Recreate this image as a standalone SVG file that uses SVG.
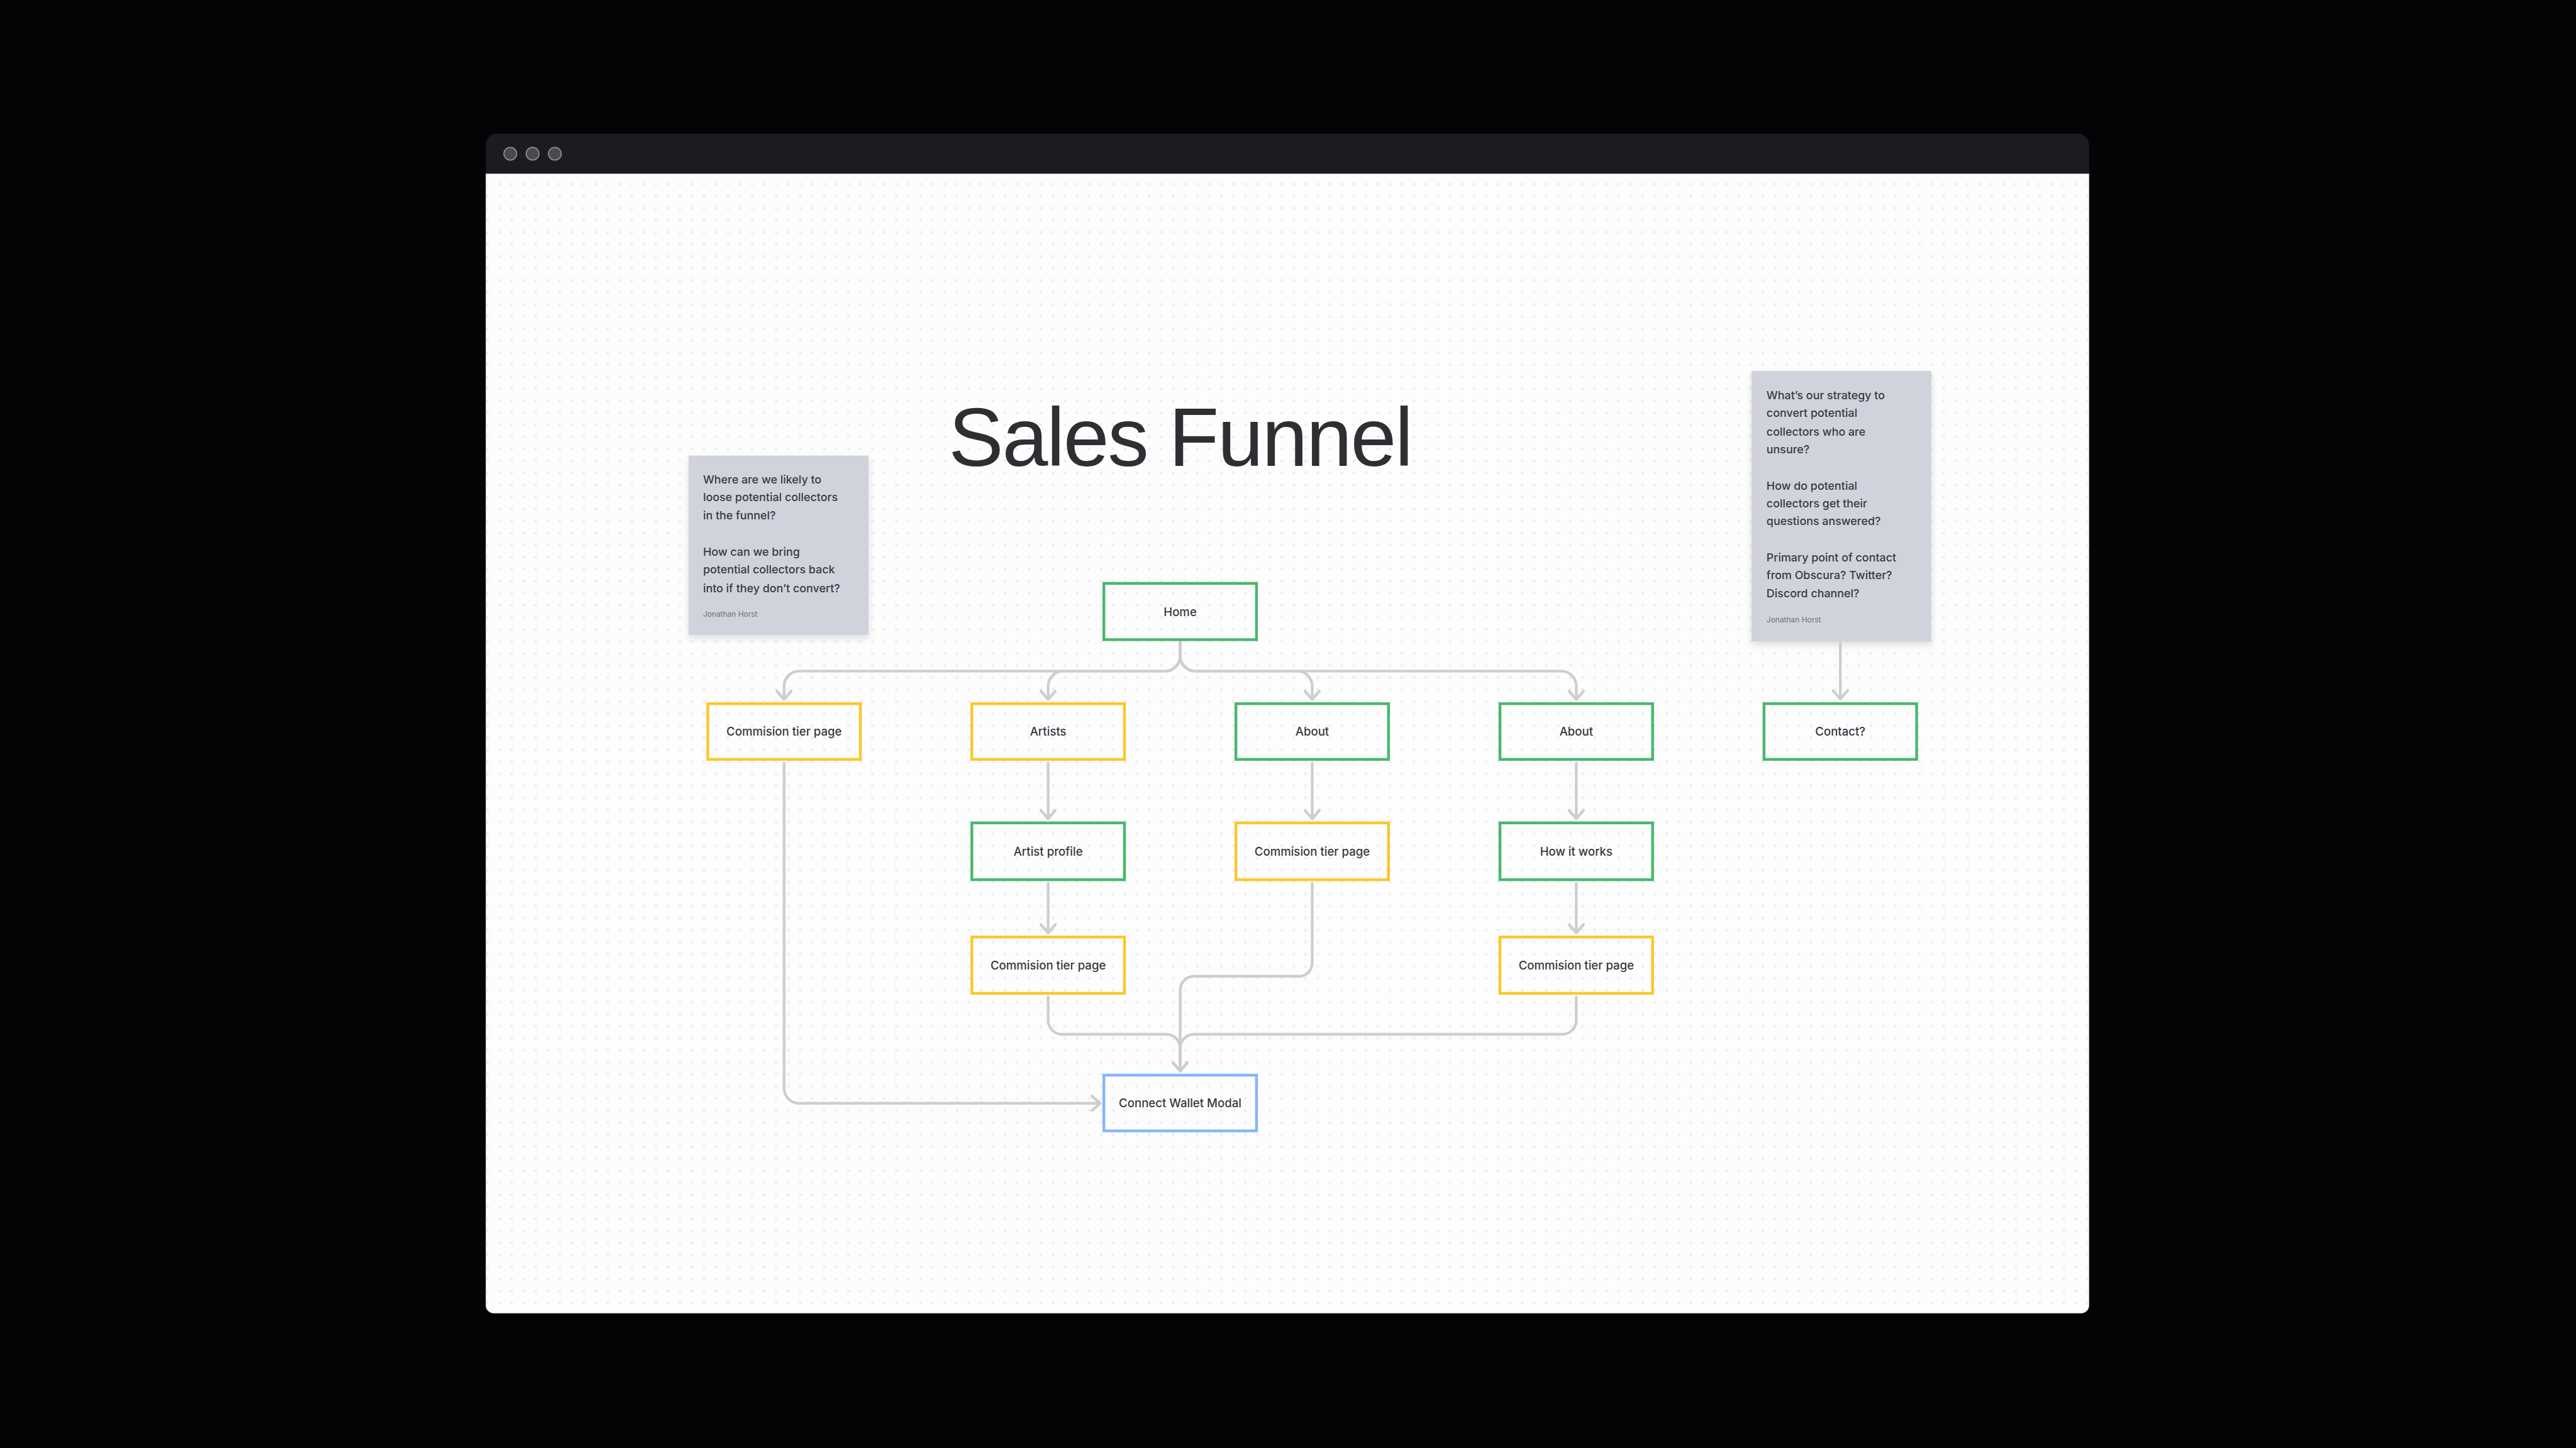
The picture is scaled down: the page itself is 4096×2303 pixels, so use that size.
<svg xmlns="http://www.w3.org/2000/svg" width="4096" height="2303" viewBox="0 0 4096 2303">
<defs>
<pattern id="dots" x="0" y="0" width="21.6" height="21.6" patternUnits="userSpaceOnUse" patternTransform="translate(8.5 4.3)">
<rect x="0" y="0" width="5" height="5" fill="#efeef2"/>
</pattern>
<filter id="shadow" x="-10%" y="-10%" width="120%" height="125%">
<feDropShadow dx="0" dy="6" stdDeviation="6" flood-color="#000" flood-opacity="0.12"/>
</filter>
<marker id="arr" viewBox="0 0 20 30" refX="18" refY="15" markerWidth="20" markerHeight="30" markerUnits="userSpaceOnUse" orient="auto">
<path d="M3 2 L18 15 L3 28" fill="none" stroke="#cfcdd2" stroke-width="5" stroke-linecap="round" stroke-linejoin="round"/>
</marker>
<style>
.node rect{fill:none;stroke-width:5}
.g rect{stroke:#47b96c}
.y rect{stroke:#fcc72c}
.b rect{stroke:#84b6fb}
.lbl{font-family:Inter,"Liberation Sans",sans-serif;font-size:21px;font-weight:500;fill:#38383d;text-anchor:middle}
.note rect{fill:#d0d3dc}
.nt{font-family:Inter,"Liberation Sans",sans-serif;font-size:20.2px;font-weight:500;fill:#3a3a40}
.nm{font-family:Inter,"Liberation Sans",sans-serif;font-size:13.5px;fill:#707078}
#connectors path{fill:none;stroke:#cfcdd2;stroke-width:5;stroke-linecap:round}
</style>
</defs>
<rect width="4096" height="2303" fill="#040306"/>
<g transform="scale(0.8858)">
<g id="window">
<path d="M892 240 H3730 A20 20 0 0 1 3750 260 V312 H872 V260 A20 20 0 0 1 892 240 Z" fill="#1c1b1f"/>
<path d="M872 312 H3750 V2344 A14 14 0 0 1 3736 2358 H886 A14 14 0 0 1 872 2344 Z" fill="#fdfdfe"/>
<rect x="872" y="312" width="2878" height="2040" fill="url(#dots)"/>
<circle cx="916" cy="276" r="11.5" fill="#4a494d" stroke="#8d8c90" stroke-width="2"/>
<circle cx="956" cy="276" r="11.5" fill="#4a494d" stroke="#8d8c90" stroke-width="2"/>
<circle cx="996" cy="276" r="11.5" fill="#4a494d" stroke="#8d8c90" stroke-width="2"/>
</g>
<text id="title" x="2118.5" y="837" font-family="'Liberation Sans',Arial,sans-serif" font-size="148" letter-spacing="-2.7" fill="#2f2e33" text-anchor="middle">Sales Funnel</text>

<g id="note-left" class="note">
<rect x="1236" y="818" width="323" height="322" filter="url(#shadow)"/>
<text class="nt"><tspan x="1262" y="868">Where are we likely to</tspan><tspan x="1262" y="900">loose potential collectors</tspan><tspan x="1262" y="932">in the funnel?</tspan><tspan x="1262" y="998">How can we bring</tspan><tspan x="1262" y="1030">potential collectors back</tspan><tspan x="1262" y="1063">into if they don’t convert?</tspan></text>
<text class="nm" x="1262" y="1108">Jonathan Horst</text>
</g>

<g id="note-right" class="note">
<rect x="3144" y="666" width="323" height="486" filter="url(#shadow)"/>
<text class="nt"><tspan x="3171" y="717">What’s our strategy to</tspan><tspan x="3171" y="749">convert potential</tspan><tspan x="3171" y="782">collectors who are</tspan><tspan x="3171" y="814">unsure?</tspan><tspan x="3171" y="879">How do potential</tspan><tspan x="3171" y="911">collectors get their</tspan><tspan x="3171" y="943">questions answered?</tspan><tspan x="3171" y="1008">Primary point of contact</tspan><tspan x="3171" y="1040">from Obscura? Twitter?</tspan><tspan x="3171" y="1072">Discord channel?</tspan></text>
<text class="nm" x="3171" y="1118">Jonathan Horst</text>
</g>

<g id="connectors">
<path d="M2118.5 1152 V1178 A27 27 0 0 1 2091.5 1205 H1434.5 A27 27 0 0 0 1407.5 1232 V1256" marker-end="url(#arr)"/>
<path d="M2118.5 1152 V1178 A27 27 0 0 1 2091.5 1205 H1908.5 A27 27 0 0 0 1881.5 1232 V1256" marker-end="url(#arr)"/>
<path d="M2118.5 1152 V1178 A27 27 0 0 0 2145.5 1205 H2328.5 A27 27 0 0 1 2355.5 1232 V1256" marker-end="url(#arr)"/>
<path d="M2118.5 1152 V1178 A27 27 0 0 0 2145.5 1205 H2802.5 A27 27 0 0 1 2829.5 1232 V1256" marker-end="url(#arr)"/>
<path d="M1881.5 1370 V1470" marker-end="url(#arr)"/>
<path d="M2355.5 1370 V1470" marker-end="url(#arr)"/>
<path d="M2829.5 1370 V1470" marker-end="url(#arr)"/>
<path d="M1881.5 1586 V1675" marker-end="url(#arr)"/>
<path d="M2829.5 1586 V1675" marker-end="url(#arr)"/>
<path d="M3303.5 1154 V1255" marker-end="url(#arr)"/>
<path d="M1407.5 1370 V1954 A27 27 0 0 0 1434.5 1981 H1975" marker-end="url(#arr)"/>
<path d="M2355.5 1586 V1729 A24 24 0 0 1 2331.5 1753 H2143.5 A25 25 0 0 0 2118.5 1778 V1923" marker-end="url(#arr)"/>
<path d="M1881.5 1790 V1832 A25 25 0 0 0 1906.5 1857 H2093.5 A25 25 0 0 1 2118.5 1882 V1923" marker-end="url(#arr)"/>
<path d="M2829.5 1790 V1832 A25 25 0 0 1 2804.5 1857 H2143.5 A25 25 0 0 0 2118.5 1882 V1923" marker-end="url(#arr)"/>
</g>

<g id="home" class="node g"><rect x="1981.5" y="1047.5" width="274" height="101"/><text class="lbl" x="2118.5" y="1106">Home</text></g>
<g id="commission-1" class="node y"><rect x="1270.5" y="1263.5" width="274" height="100"/><text class="lbl" x="1407.5" y="1321">Commision tier page</text></g>
<g id="artists" class="node y"><rect x="1744.5" y="1263.5" width="274" height="100"/><text class="lbl" x="1881.5" y="1321">Artists</text></g>
<g id="about-1" class="node g"><rect x="2218.5" y="1263.5" width="274" height="100"/><text class="lbl" x="2355.5" y="1321">About</text></g>
<g id="about-2" class="node g"><rect x="2692.5" y="1263.5" width="274" height="100"/><text class="lbl" x="2829.5" y="1321">About</text></g>
<g id="contact" class="node g"><rect x="3166.5" y="1263.5" width="274" height="100"/><text class="lbl" x="3303.5" y="1321">Contact?</text></g>
<g id="artist-profile" class="node g"><rect x="1744.5" y="1477.5" width="274" height="102"/><text class="lbl" x="1881.5" y="1536">Artist profile</text></g>
<g id="commission-2" class="node y"><rect x="2218.5" y="1477.5" width="274" height="102"/><text class="lbl" x="2355.5" y="1536">Commision tier page</text></g>
<g id="how-it-works" class="node g"><rect x="2692.5" y="1477.5" width="274" height="102"/><text class="lbl" x="2829.5" y="1536">How it works</text></g>
<g id="commission-3" class="node y"><rect x="1744.5" y="1682.5" width="274" height="101"/><text class="lbl" x="1881.5" y="1741">Commision tier page</text></g>
<g id="commission-4" class="node y"><rect x="2692.5" y="1682.5" width="274" height="101"/><text class="lbl" x="2829.5" y="1741">Commision tier page</text></g>
<g id="connect-wallet" class="node b"><rect x="1981.5" y="1930.5" width="274" height="100"/><text class="lbl" x="2118.5" y="1988">Connect Wallet Modal</text></g>
</g>
</svg>
